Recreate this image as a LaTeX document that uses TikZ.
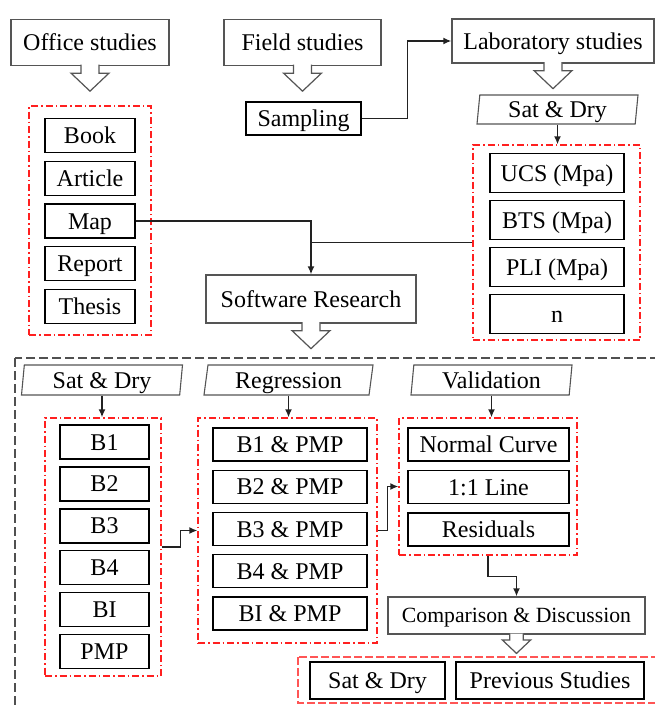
\documentclass[tikz,border=0pt]{standalone}
\usepackage{fontspec}
\setmainfont{Liberation Serif}
\usetikzlibrary{arrows.meta,positioning,shapes.geometric}
\definecolor{edge}{HTML}{555555}
\definecolor{wire}{HTML}{222222}
\definecolor{redline}{HTML}{FF2020}
\definecolor{redsoft}{HTML}{FF5555}
\definecolor{frame}{HTML}{505050}
\tikzset{
  stage/.style={
    draw=edge, line width=1.3pt, fill=white,
    minimum height=46pt, inner sep=0pt,
    text height=16pt, text depth=0pt,
    font=\fontsize{24}{28}\selectfont
  },
  item/.style={
    draw=black, line width=1.4pt,
    minimum height=34pt, inner sep=0pt,
    text height=16pt, text depth=0pt,
    font=\fontsize{24}{28}\selectfont
  },
  slant/.style={
    trapezium, trapezium left angle=80, trapezium right angle=100,
    trapezium stretches body, draw=edge, line width=1.1pt,
    minimum height=30pt, inner sep=0pt,
    text height=16pt, text depth=0pt,
    font=\fontsize{24}{28}\selectfont
  },
  group/.style={
    draw=redline, line width=1.3pt,
    dash pattern=on 7pt off 3pt on 1.5pt off 3pt
  },
  arrow/.style={-{Latex[length=8pt,width=7pt]}, line width=1.5pt, draw=wire},
  link/.style={line width=1.5pt, draw=wire},
  hollow/.pic={
    \draw[draw=edge, line width=1.2pt, fill=white]
      (-9,-1.5) -- (-9,7) -- (-19,7) -- (0,25) -- (19,7) -- (9,7) -- (9,-1.5);
  }
}

\begin{document}
\begin{tikzpicture}[x=1pt,y=-1pt]
  \useasboundingbox (0,0) rectangle (655,707);

  % field work, office work, lab work
  \node[stage, minimum width=158pt] (office) at (90,42.5) {Office studies};
  \node[stage, minimum width=157pt] (field) at (302.5,42.5) {Field studies};
  \node[stage, minimum width=202pt, minimum height=44pt] (lab) at (553,41) {Laboratory studies};
  \node[item, minimum width=115pt, minimum height=33pt] (sampling) at (303.5,118.5) {Sampling};
  \node[slant, minimum width=161pt, minimum height=29pt] (labcond) at (557.5,109.5) {Sat \& Dry};
  \pic at (office.south) {hollow};
  \pic at (field.south) {hollow};
  \pic at (lab.south) {hollow};

  \node[group, minimum width=122pt, minimum height=229pt] (docs) at (90,220.5) {};
  \foreach \name/\txt [count=\i from 0] in {book/Book,article/Article,map/Map,report/Report,thesis/Thesis}
    \node[item, minimum width=90pt] (\name) at (90,135.5+42.75*\i) {\txt};

  \node[group, minimum width=167pt, minimum height=195pt] (tests) at (556.5,242.5) {};
  \foreach \name/\txt [count=\i from 0] in {ucs/UCS (Mpa),bts/BTS (Mpa),pli/PLI (Mpa),nval/n}
    \node[item, minimum width=134pt, minimum height=39pt] (\name) at (557,173+47*\i) {\txt};

  \node[stage, minimum width=210pt, minimum height=48pt] (soft) at (311,299) {Software Research};
  \pic at (soft.south) {hollow};

  \draw[arrow] (sampling.east) -- ++(46,0) |- (lab.west);
  \draw[arrow] (labcond.south) -- (labcond.south |- tests.north);
  \draw[arrow] (map.east) -| (soft.north);
  \draw[link] (tests.west) -- (tests.west -| soft.north);

  % modelling stage
  \draw[draw=frame, line width=1.3pt, dash pattern=on 9pt off 4pt] (15,358) rectangle (680,730);

  \node[slant, minimum width=161pt] (cond) at (102,380) {Sat \& Dry};
  \node[slant, minimum width=169pt, trapezium left angle=76, trapezium right angle=104] (regr) at (288.5,380) {Regression};
  \node[slant, minimum width=161pt] (valid) at (491.5,380) {Validation};

  \node[group, minimum width=116pt, minimum height=258pt] (indices) at (103,547) {};
  \foreach \name/\txt [count=\i from 0] in {bone/B1,btwo/B2,bthree/B3,bfour/B4,bi/BI,pmp/PMP}
    \node[item, minimum width=89pt] (\name) at (104.5,442+41.9*\i) {\txt};

  \node[group, minimum width=179pt, minimum height=225pt] (pairs) at (287.5,530.5) {};
  \foreach \name/\txt [count=\i from 0] in {pone/B1,ptwo/B2,pthree/B3,pfour/B4,pi/BI}
    \node[item, minimum width=154pt, minimum height=33pt] (\name) at (290,444.5+42.25*\i) {\txt{} \& PMP};

  \node[group, minimum width=178pt, minimum height=137pt] (checks) at (488,486.5) {};
  \foreach \name/\txt [count=\i from 0] in {normal/Normal Curve,oneone/1:1 Line,resid/Residuals}
    \node[item, minimum width=161pt, minimum height=33pt] (\name) at (488.5,444.5+42.5*\i) {\txt};

  \draw[arrow] (cond.south) -- (cond.south |- indices.north);
  \draw[arrow] (regr.south) -- (regr.south |- pairs.north);
  \draw[arrow] (valid.south) -- (valid.south |- checks.north);
  \draw[arrow] (indices.east) -- ++(19,0) |- (pairs.west);
  \draw[arrow] (pairs.east) -- ++(10,0) |- (checks.west);

  \node[stage, minimum width=257pt, minimum height=37pt, text height=14pt, font=\fontsize{21.7}{26}\selectfont] (comp) at (516.5,615.5) {Comparison \& Discussion};
  \draw[arrow] (checks.south) -- ++(0,21) -| (comp.north);
  \pic[scale=0.75] at (comp.south) {hollow};

  \draw[draw=redsoft, line width=1.3pt, dash pattern=on 8pt off 3pt] (298,657) rectangle (680,703);
  \node[item, minimum width=135pt, minimum height=37pt] (satdry) at (377.5,680.5) {Sat \& Dry};
  \node[item, minimum width=188pt, minimum height=37pt] (prev) at (550,680.5) {Previous Studies};
\end{tikzpicture}
\end{document}
